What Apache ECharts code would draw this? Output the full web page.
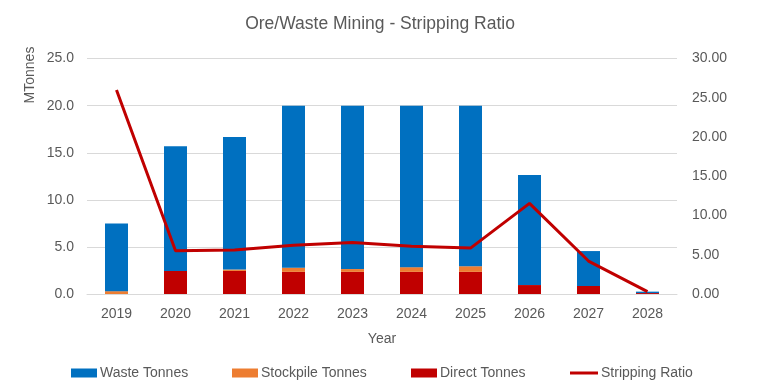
<!DOCTYPE html>
<html><head><meta charset="utf-8">
<script src="https://cdn.jsdelivr.net/npm/echarts@6/dist/echarts.min.js"></script>
<style>html,body{margin:0;padding:0;background:#fff}#c{width:760px;height:386px}</style>
</head><body><div id="c"></div>
<script>
const years = ['2019','2020','2021','2022','2023','2024','2025','2026','2027','2028'];
const directTonnes    = [0.0, 2.45, 2.45, 2.35, 2.35, 2.35, 2.35, 0.95, 0.85, 0.1];
const stockpileTonnes = [0.3, 0.0, 0.15, 0.45, 0.3, 0.5, 0.6, 0.0, 0.0, 0.0];
const wasteTonnes     = [7.2, 13.25, 14.07, 17.2, 17.35, 17.15, 17.05, 11.68, 3.71, 0.15];
const strippingRatio  = [26.0, 5.5, 5.6, 6.2, 6.55, 6.1, 5.85, 11.55, 4.2, 0.3];

const FONT = '"Liberation Sans", Arial, sans-serif';
const TXT = '#595959';
const chart = echarts.init(document.getElementById('c'), null, {renderer: 'canvas'});
const legendBase = {
  top: 366, itemWidth: 26, itemHeight: 9, itemGap: 4, padding: 0, icon: 'rect',
  textStyle: {color: TXT, fontSize: 14, fontFamily: FONT, padding: [0,0,0,-2]}
};
chart.setOption({
  animation: false,
  title: {text: 'Ore/Waste Mining - Stripping Ratio', left: 'center', top: 10,
    textStyle: {color: TXT, fontSize: 17.5, fontWeight: 'normal', fontFamily: FONT}},
  grid: {left: 87, right: 83, top: 58.6, bottom: 92, containLabel: false, outerBoundsMode: 'none'},
  legend: [
    Object.assign({}, legendBase, {left: 71, data: ['Waste Tonnes']}),
    Object.assign({}, legendBase, {left: 232, data: ['Stockpile Tonnes']}),
    Object.assign({}, legendBase, {left: 411, data: ['Direct Tonnes']}),
    Object.assign({}, legendBase, {left: 570, itemWidth: 28, itemHeight: 3,
      data: [{name: 'Stripping Ratio', icon: 'rect'}]})
  ],
  xAxis: {
    type: 'category', data: years, name: 'Year', nameLocation: 'middle', nameGap: 38,
    nameTextStyle: {color: TXT, fontSize: 14, fontFamily: FONT},
    axisLine: {lineStyle: {color: '#D9D9D9'}}, axisTick: {show: false},
    axisLabel: {color: TXT, fontSize: 14, fontFamily: FONT, margin: 13}
  },
  yAxis: [
    {type: 'value', min: 0, max: 25, interval: 5, name: 'MTonnes', nameLocation: 'end',
     nameRotate: 90, nameGap: 12,
     nameTextStyle: {color: TXT, fontSize: 14, fontFamily: FONT, align: 'right', verticalAlign: 'bottom', padding: [0,0,50,0]},
     axisLine: {show: false}, axisTick: {show: false},
     axisLabel: {color: TXT, fontSize: 14, fontFamily: FONT, margin: 13, formatter: v => v.toFixed(1)},
     splitLine: {lineStyle: {color: '#D9D9D9'}}},
    {type: 'value', min: 0, max: 30, interval: 5, position: 'right',
     axisLine: {show: false}, axisTick: {show: false}, splitLine: {show: false},
     axisLabel: {color: TXT, fontSize: 14, fontFamily: FONT, margin: 15, formatter: v => v.toFixed(2)}}
  ],
  series: [
    {name: 'Direct Tonnes', type: 'bar', stack: 't', data: directTonnes, barWidth: 23,
     itemStyle: {color: '#C00000'}},
    {name: 'Stockpile Tonnes', type: 'bar', stack: 't', data: stockpileTonnes, barWidth: 23,
     itemStyle: {color: '#ED7D31'}},
    {name: 'Waste Tonnes', type: 'bar', stack: 't', data: wasteTonnes, barWidth: 23,
     itemStyle: {color: '#0070C0'}},
    {name: 'Stripping Ratio', type: 'line', yAxisIndex: 1, data: strippingRatio,
     symbol: 'none', lineStyle: {color: '#C00000', width: 3}, itemStyle: {color: '#C00000'}}
  ]
});
</script></body></html>
